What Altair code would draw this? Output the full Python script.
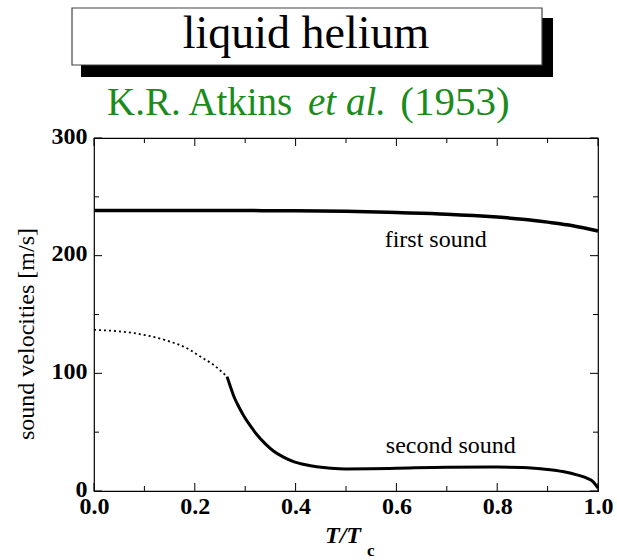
import altair as alt
import pandas as pd

# Plot area in pixels (the chart is laid out with autosize "none")
W, H = 504, 353
PAD_L, PAD_T = 94, 138

# First sound velocity vs reduced temperature
first_t = [0.0, 0.1, 0.2, 0.3, 0.4, 0.5, 0.6, 0.7, 0.8, 0.85, 0.9, 0.95, 1.0]
first_v = [238.4, 238.4, 238.4, 238.3, 238.2, 237.7, 236.6, 235.3, 232.8, 231.0, 228.5, 225.5, 221.0]

# Second sound, extrapolated (dotted) part at low temperature
dot_t = [0.0, 0.04, 0.08, 0.14, 0.19, 0.21, 0.237, 0.264]
dot_v = [137.0, 136.0, 134.1, 128.4, 120.0, 114.5, 107.2, 97.2]

# Second sound, measured (solid) part
sec_t = [0.264, 0.27, 0.277, 0.285, 0.297, 0.31, 0.323, 0.34, 0.356, 0.375, 0.396, 0.42,
         0.442, 0.47, 0.50, 0.55, 0.60, 0.70, 0.80, 0.85, 0.90, 0.93, 0.96, 0.98, 0.99, 1.0]
sec_v = [97.2, 89.5, 81.0, 73.5, 64.0, 55.5, 48.0, 40.0, 34.0, 29.0, 25.0, 22.3,
         20.7, 19.4, 18.8, 18.9, 19.3, 20.2, 20.3, 20.0, 18.3, 16.5, 13.5, 10.5, 8.0, 2.5]

# Curve labels
label_text = ["first sound", "second sound"]
label_t = [0.678, 0.708]
label_v = [207.5, 32.5]

# Axis ticks
x_major = [0.0, 0.2, 0.4, 0.6, 0.8, 1.0]
x_minor = [0.1, 0.3, 0.5, 0.7, 0.9]
y_major = [0, 100, 200, 300]
y_minor = [50, 150, 250]

SERIF = "Times New Roman, Liberation Serif, serif"
GREEN = "#1b8c1b"

xs = alt.Scale(domain=[0, 1], nice=False, zero=False)
ys = alt.Scale(domain=[0, 300], nice=False)

first_df = pd.DataFrame({"t": first_t, "v": first_v})
dot_df = pd.DataFrame({"t": dot_t, "v": dot_v})
sec_df = pd.DataFrame({"t": sec_t, "v": sec_v})
lab_df = pd.DataFrame({"t": label_t, "v": label_v, "txt": label_text})

x_axis = alt.Axis(values=x_major, format=".1f", ticks=False, domain=False, grid=False,
                  labelFont=SERIF, labelFontWeight="bold", labelFontSize=24,
                  labelColor="black", labelPadding=3, title=None, labelFlush=False)
y_axis = alt.Axis(values=y_major, format="d", ticks=False, domain=False, grid=False,
                  labelFont=SERIF, labelFontWeight="bold", labelFontSize=24,
                  labelColor="black", labelPadding=7, labelOffset=-2, title=None)

first = alt.Chart(first_df).mark_line(color="black", strokeWidth=3.5, interpolate="monotone").encode(
    x=alt.X("t:Q", scale=xs, axis=x_axis),
    y=alt.Y("v:Q", scale=ys, axis=y_axis),
)
dotted = alt.Chart(dot_df).mark_line(color="black", strokeWidth=1.8, strokeDash=[2, 3],
                                     interpolate="monotone").encode(
    x=alt.X("t:Q", scale=xs), y=alt.Y("v:Q", scale=ys))
second = alt.Chart(sec_df).mark_line(color="black", strokeWidth=3, interpolate="monotone").encode(
    x=alt.X("t:Q", scale=xs), y=alt.Y("v:Q", scale=ys))

labels = alt.Chart(lab_df).mark_text(font=SERIF, fontSize=24, align="center",
                                     baseline="alphabetic", color="black").encode(
    x=alt.X("t:Q", scale=xs), y=alt.Y("v:Q", scale=ys), text="txt:N")


def xticks(vals, length, top):
    df = pd.DataFrame({"t": vals})
    y0, y1 = (0, length) if top else (H, H - length)
    return alt.Chart(df).mark_rule(color="black", strokeWidth=1).encode(
        x=alt.X("t:Q", scale=xs), y=alt.value(y0), y2=alt.value(y1))


def yticks(vals, length, right):
    df = pd.DataFrame({"v": vals})
    x0, x1 = (W, W - length) if right else (0, length)
    return alt.Chart(df).mark_rule(color="black", strokeWidth=1).encode(
        y=alt.Y("v:Q", scale=ys), x=alt.value(x0), x2=alt.value(x1))


ticks = [
    xticks(x_major, 8, False), xticks(x_minor, 5, False),
    xticks(x_major, 8, True), xticks(x_minor, 5, True),
    yticks(y_major, 8, False), yticks(y_minor, 5, False),
    yticks(y_major, 8, True), yticks(y_minor, 5, True),
]

one = pd.DataFrame({"k": [0]})

# Axis titles
y_title = alt.Chart(one).mark_text(text="sound velocities [m/s]", font=SERIF, fontSize=24,
                                   angle=270, align="center", baseline="middle",
                                   color="black").encode(x=alt.value(-67), y=alt.value(196))
x_title = alt.Chart(one).mark_text(text="T/T", font=SERIF, fontSize=24, fontStyle="italic",
                                   fontWeight="bold", align="left", baseline="alphabetic",
                                   color="black").encode(x=alt.value(231), y=alt.value(405))
x_sub = alt.Chart(one).mark_text(text="c", font=SERIF, fontSize=17, fontWeight="bold",
                                 align="left", baseline="alphabetic",
                                 color="black").encode(x=alt.value(273), y=alt.value(418))

# Boxed heading with drop shadow
shadow = alt.Chart(one).mark_rect(color="black").encode(
    x=alt.value(-13), x2=alt.value(459), y=alt.value(-120), y2=alt.value(-61))
box = alt.Chart(one).mark_rect(fill="white", stroke="#444444", strokeWidth=1.2).encode(
    x=alt.value(-22), x2=alt.value(448), y=alt.value(-130), y2=alt.value(-73))
heading = alt.Chart(one).mark_text(text="liquid helium", font=SERIF, fontSize=46,
                                   align="center", baseline="alphabetic",
                                   color="black").encode(x=alt.value(212), y=alt.value(-90))

# Reference line in green, with an italic "et al."
ref1 = alt.Chart(one).mark_text(text="K.R. Atkins", font=SERIF, fontSize=39, align="left",
                                baseline="alphabetic", color=GREEN).encode(
    x=alt.value(13), y=alt.value(-23))
ref2 = alt.Chart(one).mark_text(text="et al.", font=SERIF, fontSize=39, fontStyle="italic",
                                align="left", baseline="alphabetic", color=GREEN).encode(
    x=alt.value(214), y=alt.value(-23))
ref3 = alt.Chart(one).mark_text(text="(1953)", font=SERIF, fontSize=41, align="center",
                                baseline="alphabetic", color=GREEN).encode(
    x=alt.value(361), y=alt.value(-23))

chart = alt.layer(
    first, dotted, second, labels, *ticks,
    y_title, x_title, x_sub, shadow, box, heading, ref1, ref2, ref3,
).properties(
    width=W, height=H,
    autosize=alt.AutoSizeParams(type="none"),
    padding={"left": PAD_L, "top": PAD_T, "right": 617 - PAD_L - W, "bottom": 560 - PAD_T - H},
    background="white",
).configure_view(stroke="black", strokeWidth=1.2)

chart.save("out.html", embed_options={"renderer": "svg", "actions": False})
